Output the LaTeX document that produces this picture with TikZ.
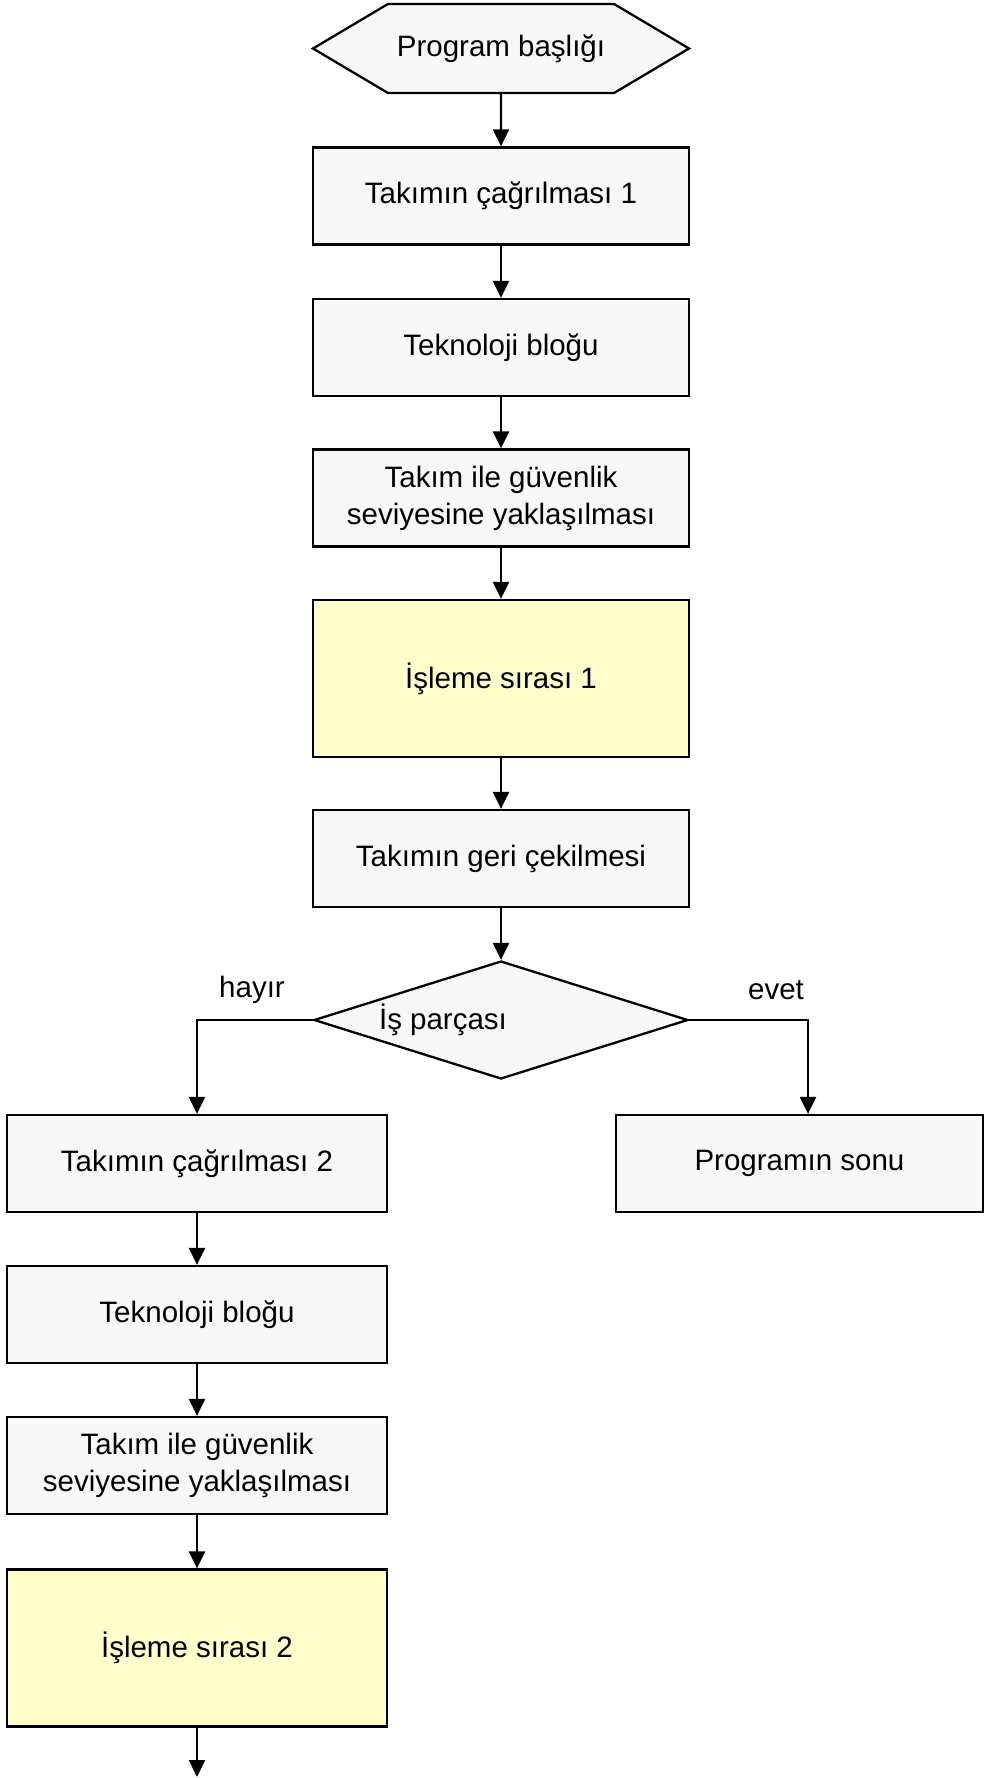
\documentclass[tikz,border=0pt]{standalone}
\usepackage{fontspec}
\setmainfont{Liberation Sans}
\usetikzlibrary{arrows.meta,shapes.geometric,shapes.symbols}
\definecolor{boxgray}{HTML}{F7F7F7}
\definecolor{workyellow}{HTML}{FFFFCC}
\tikzset{
  txt/.style={font=\fontsize{29.5pt}{37pt}\selectfont, align=center, inner sep=0pt},
  block/.style={txt, draw, line width=2.3pt, fill=boxgray, minimum width=376pt, minimum height=97pt},
  work/.style={block, fill=workyellow, minimum height=157pt},
  flow/.style={line width=2.3pt, -{Triangle[length=17pt,width=16pt]}}
}

\begin{document}
\begin{tikzpicture}[x=1pt, y=-1pt]
				%%%%% START %%%%%
				\useasboundingbox (0, 0) rectangle (984, 1778);
				
				\node[txt, draw, line width=2.3pt, fill=boxgray, shape=signal, signal to=west and east,
				      signal pointer angle=61.4, minimum width=376pt, minimum height=89pt] (head) at (501, 48.5) {Program başlığı};
				
				\node[block] (call1) at (501, 196) {Takımın çağrılması 1};
				\node[block] (tech1) at (501, 347.5) {Teknoloji bloğu};
				\node[block] (appr1) at (501, 498) {Takım ile güvenlik\\seviyesine yaklaşılması};
				\node[work] (seq1) at (501, 678.5) {İşleme sırası 1};
				\node[block] (retr) at (501, 858.5) {Takımın geri çekilmesi};
				
				\node[draw, line width=2.3pt, fill=boxgray, shape=diamond, inner sep=0pt,
				      minimum width=374pt, minimum height=118pt] (part) at (501, 1020) {};
				\node[txt] (partlbl) at (443, 1020) {İş parçası};
				\node[txt] (no) at (252, 990) {hayır};
				\node[txt] (yes) at (776, 990) {evet};
				
				\node[block, minimum width=380pt] (call2) at (197, 1163.5) {Takımın çağrılması 2};
				\node[block, minimum width=367pt] (progend) at (799.5, 1163.5) {Programın sonu};
				\node[block, minimum width=380pt] (tech2) at (197, 1314.5) {Teknoloji bloğu};
				\node[block, minimum width=380pt] (appr2) at (197, 1465.5) {Takım ile güvenlik\\seviyesine yaklaşılması};
				\node[work, minimum width=380pt] (seq2) at (197, 1648) {İşleme sırası 2};
				\coordinate (next) at (197, 1777);
				
				\draw[flow] (head) -- (call1);
				\draw[flow] (call1) -- (tech1);
				\draw[flow] (tech1) -- (appr1);
				\draw[flow] (appr1) -- (seq1);
				\draw[flow] (seq1) -- (retr);
				\draw[flow] (retr) -- (part);
				
				\draw[flow] (part.west) -| (call2.north);
				\draw[flow] (part.east) -| ([xshift=8.5pt]progend.north);
				
				\draw[flow] (call2) -- (tech2);
				\draw[flow] (tech2) -- (appr2);
				\draw[flow] (appr2) -- (seq2);
				\draw[flow] (seq2) -- (next);
				%%%%% END %%%%%
\end{tikzpicture}
\end{document}
